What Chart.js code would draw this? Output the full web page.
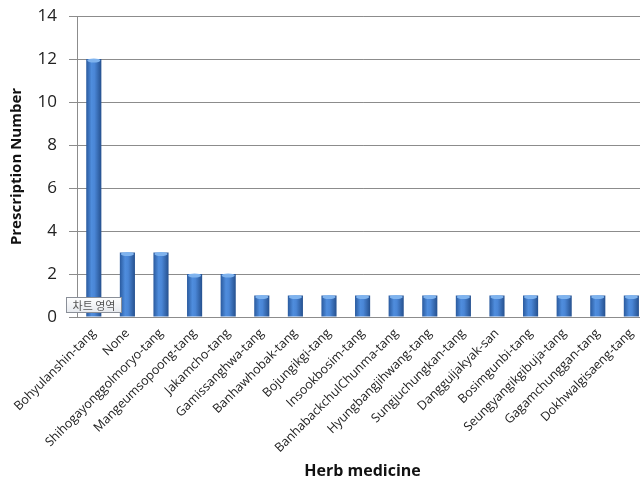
<!DOCTYPE html>
<html>
<head>
<meta charset="utf-8">
<script src="https://cdn.jsdelivr.net/npm/chart.js@4"></script>
<style>
  html, body { margin: 0; padding: 0; background: #fff; overflow: hidden; }
  #wrap { width: 640px; height: 484px; position: relative; overflow: hidden; }
</style>
</head>
<body>
<div id="wrap"><canvas id="c" width="651" height="484"></canvas></div>
<script>
// Herb medicines prescribed and how many prescriptions each appeared in
const herbs = [
  'Bohyulanshin-tang', 'None', 'Shihogayonggolmoryo-tang', 'Mangeumsopoong-tang',
  'Jakamcho-tang', 'Gamissanghwa-tang', 'Banhawhobak-tang', 'Bojungikgi-tang',
  'Insookbosim-tang', 'BanhabackchulChunma-tang', 'Hyungbangjihwang-tang',
  'Sungjuchungkan-tang', 'Dangguijakyak-san', 'Bosimgunbi-tang',
  'Seungyangikgibuja-tang', 'Gagamchunggan-tang', 'Dokhwalgisaeng-tang'
];
const prescriptions = [12, 3, 3, 2, 2, 1, 1, 1, 1, 1, 1, 1, 1, 1, 1, 1, 1];
const yTicks = [0, 2, 4, 6, 8, 10, 12, 14];

const BAR_FRACTION = 0.45;

// cylinder-like shading across each bar
function barFill(ctx) {
  const chart = ctx.chart;
  const xs = chart.scales && chart.scales.x;
  if (!xs || !chart.chartArea) return '#3a72c0';
  const cx = xs.getPixelForValue(ctx.dataIndex);
  const half = (xs.width / herbs.length) * BAR_FRACTION / 2;
  const g = chart.ctx.createLinearGradient(cx - half, 0, cx + half, 0);
  g.addColorStop(0, '#2a5a9e');
  g.addColorStop(0.35, '#4f8ddd');
  g.addColorStop(0.55, '#4a86d6');
  g.addColorStop(1, '#25508e');
  return g;
}

// light rounded cap on top of each bar
const barCaps = {
  id: 'barCaps',
  afterDatasetsDraw(chart) {
    const { ctx } = chart;
    ctx.save();
    chart.getDatasetMeta(0).data.forEach(bar => {
      const half = bar.width / 2;
      ctx.fillStyle = '#7fb3ee';
      ctx.beginPath();
      ctx.ellipse(bar.x, bar.y + 1.5, half - 1, 2, 0, 0, Math.PI * 2);
      ctx.fill();
    });
    ctx.restore();
  }
};

// small caption box sitting near the lower-left corner of the plot
const captionBox = {
  id: 'captionBox',
  afterDraw(chart) {
    const { ctx, chartArea } = chart;
    const x = chartArea.left - 11, y = chartArea.bottom - 20, w = 56, h = 16;
    ctx.save();
    const g = ctx.createLinearGradient(0, y, 0, y + h);
    g.addColorStop(0, '#ffffff');
    g.addColorStop(1, '#e6e9ee');
    ctx.fillStyle = g;
    ctx.fillRect(x, y, w, h);
    ctx.strokeStyle = '#8a8f98';
    ctx.lineWidth = 1;
    ctx.strokeRect(x + 0.5, y + 0.5, w - 1, h - 1);
    ctx.fillStyle = '#555';
    ctx.font = '11px "Noto Sans CJK KR"';
    ctx.textBaseline = 'middle';
    ctx.textAlign = 'center';
    ctx.fillText('차트 영역', x + w / 2, y + h / 2 + 1);
    ctx.restore();
  }
};

new Chart(document.getElementById('c'), {
  type: 'bar',
  data: {
    labels: herbs,
    datasets: [{
      data: prescriptions,
      backgroundColor: barFill,
      borderWidth: 0,
      barPercentage: BAR_FRACTION,
      categoryPercentage: 1.0
    }]
  },
  options: {
    responsive: false,
    animation: false,
    layout: { padding: { top: 16, right: 1, left: 0, bottom: 0 } },
    plugins: { legend: { display: false }, tooltip: { enabled: false } },
    scales: {
      x: {
        grid: { display: false, drawTicks: false },
        border: { display: true, color: '#8c8c8c', width: 1 },
        ticks: {
          autoSkip: false,
          maxRotation: 45,
          minRotation: 45,
          padding: 9,
          color: '#222',
          font: { family: '"Open Sans"', size: 12.5 }
        },
        title: {
          display: true,
          text: 'Herb medicine',
          color: '#111',
          font: { family: '"Open Sans"', size: 16, weight: 'bold' },
          padding: { top: 4, bottom: 3 }
        },
        afterFit(scale) { scale.height = 167; }
      },
      y: {
        min: 0,
        max: 14,
        afterBuildTicks(scale) { scale.ticks = yTicks.map(v => ({ value: v })); },
        grid: { color: '#8c8c8c', lineWidth: 1, drawTicks: true, tickLength: 8 },
        border: { display: true, color: '#8c8c8c', width: 1 },
        ticks: {
          padding: 12,
          color: '#222',
          font: { family: '"Open Sans"', size: 17 }
        },
        title: {
          display: true,
          text: 'Prescription Number',
          color: '#111',
          font: { family: '"Open Sans"', size: 15, weight: 'bold' },
          padding: { top: 8, bottom: 0 }
        },
        afterFit(scale) {
          scale.width = 77;
          scale.paddingTop = 0;
          scale.paddingBottom = 0;
        }
      }
    }
  },
  plugins: [barCaps, captionBox]
});
</script>
</body>
</html>
